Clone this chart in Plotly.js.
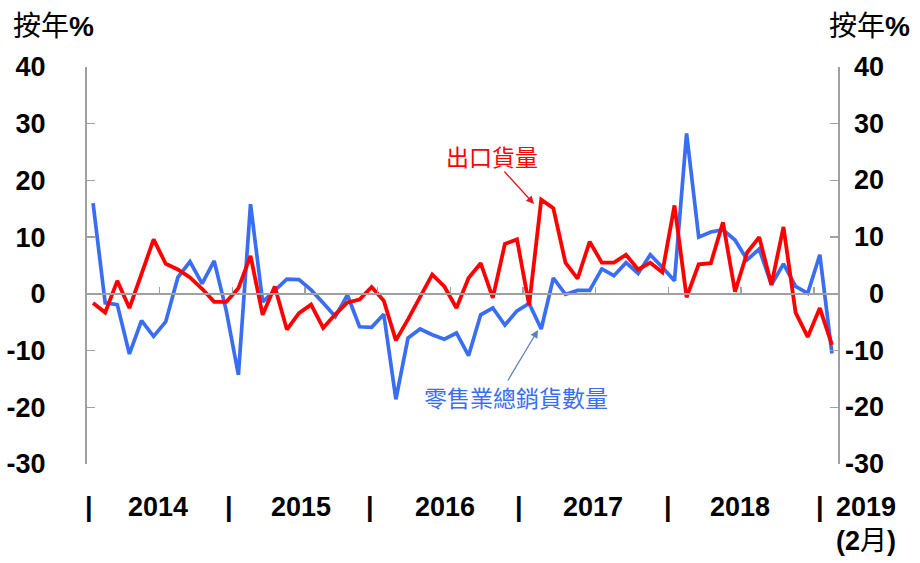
<!DOCTYPE html>
<html><head><meta charset="utf-8">
<script src="https://cdn.plot.ly/plotly-3.0.1.min.js"></script>
<style>html,body{margin:0;padding:0;background:#fff;}#chart{width:920px;height:563px;}</style>
</head><body><div id="chart"></div>
<script>
// Monthly, Jan 2014 .. Feb 2019 (year-on-year %)
const years = ['2014','2015','2016','2017','2018','2019'];
const retailVolume = [16.0,-1.6,-1.9,-10.6,-4.7,-7.5,-4.9,2.9,5.7,1.8,5.8,-3.0,
  -14.3,15.8,-1.4,0.6,2.6,2.5,0.7,-1.6,-4.0,-0.2,-5.8,-5.9,
  -3.6,-18.6,-7.8,-6.2,-7.2,-8.0,-6.9,-10.9,-3.7,-2.5,-5.5,-3.0,
  -1.7,-6.2,2.8,-0.1,0.6,0.6,4.4,3.2,5.5,3.6,6.9,4.7,
  2.3,28.3,10.0,10.9,11.3,9.5,6.0,7.9,1.6,5.3,1.3,0.1,
  6.9,-10.5];
const exportVolume = [-1.6,-3.3,2.3,-2.5,3.5,9.6,5.3,4.3,2.9,0.9,-1.4,-1.4,
  1.0,6.7,-3.7,1.3,-6.3,-3.4,-1.9,-6.0,-3.6,-1.5,-1.0,1.2,
  -1.2,-8.2,-4.5,-0.5,3.4,1.3,-2.5,2.8,5.4,-0.7,8.8,9.6,
  -2.0,16.6,15.1,5.5,2.7,9.2,5.5,5.5,6.9,4.3,5.5,3.8,
  15.6,-0.6,5.2,5.4,12.6,0.4,7.3,10.0,1.6,11.8,-3.3,-7.6,
  -2.5,-9.0];
const yTicks = [-30,-20,-10,0,10,20,30,40];
const yTickText = ['-30','-20','-10','0','10','20','30','40'];
const halfYearTicks = [5.5,11.5,17.5,23.5,29.5,35.5,41.5,47.5,53.5,59.5];
const monthIdx = retailVolume.map((_, i) => i);

const W = 920, L = 87, R = 838, T = 67, B = 464;
const px = v => (v - L) / (R - L);
const py = v => (B - v) / (B - T);
const FONT = 'Liberation Sans, Arial, Noto Sans CJK TC, sans-serif';
const GRAY = '#a0a0a0';
const FS = 27;

const traces = [
  {x: monthIdx, y: retailVolume, type: 'scatter', mode: 'lines', yaxis: 'y',
   line: {color: '#3a6ef2', width: 3.7}, hoverinfo: 'skip'},
  {x: monthIdx, y: exportVolume, type: 'scatter', mode: 'lines', yaxis: 'y2',
   line: {color: '#ff0000', width: 3.8}, hoverinfo: 'skip'}
];

const ann = [];
// right tick labels (right-aligned)
yTicks.forEach((v, k) => ann.push({xref: 'paper', yref: 'y', x: px(886), y: v, xanchor: 'right', yanchor: 'middle',
  text: '<b>' + yTickText[k] + '</b>', showarrow: false, font: {family: FONT, size: FS, color: '#000'}}));
// unit labels
[[11],[827]].forEach(p => ann.push({xref: 'paper', yref: 'paper', x: px(p[0]), y: py(26), xanchor: 'left', yanchor: 'middle',
  text: '按年<b>%</b>', showarrow: false, font: {family: FONT, size: 28, color: '#000'}}));
// year separators and labels
const sepPx = [88.5, 229, 370, 519, 668, 819.5];
const yearPx = [158, 301, 445, 593, 740, 866];
sepPx.forEach(p => ann.push({xref: 'paper', yref: 'paper', x: px(p), y: py(507), xanchor: 'center', yanchor: 'middle',
  text: '<b>|</b>', showarrow: false, font: {family: FONT, size: FS, color: '#000'}}));
years.forEach((yr, k) => ann.push({xref: 'paper', yref: 'paper', x: px(yearPx[k]), y: py(507), xanchor: 'center', yanchor: 'middle',
  text: '<b>' + yr + '</b>', showarrow: false, font: {family: FONT, size: FS, color: '#000'}}));
ann.push({xref: 'paper', yref: 'paper', x: px(866), y: py(541), xanchor: 'center', yanchor: 'middle',
  text: '<b>(2</b>月<b>)</b>', showarrow: false, font: {family: FONT, size: FS, color: '#000'}});
// series labels
ann.push({xref: 'paper', yref: 'paper', x: px(492), y: py(156), xanchor: 'center', yanchor: 'middle',
  text: '出口貨量', showarrow: false, font: {family: 'Noto Sans CJK TC', size: 23, color: '#ff0000'}});
ann.push({xref: 'paper', yref: 'paper', x: px(516), y: py(397), xanchor: 'center', yanchor: 'middle',
  text: '零售業總銷貨數量', showarrow: false, font: {family: 'Noto Sans CJK TC', size: 23, color: '#3a6ef2'}});
// arrows
ann.push({xref: 'paper', yref: 'paper', x: px(534), y: py(204), ax: -31, ay: -34, text: '', showarrow: true,
  arrowhead: 2, arrowsize: 1.2, arrowwidth: 1.3, arrowcolor: '#e8141c', standoff: 0});
ann.push({xref: 'paper', yref: 'paper', x: px(538), y: py(330), ax: -31, ay: 52, text: '', showarrow: true,
  arrowhead: 2, arrowsize: 1.2, arrowwidth: 1.3, arrowcolor: '#5b82b5', standoff: 0});

const layout = {
  width: W, height: 563,
  margin: {l: L, r: W - R, t: T, b: 563 - B, pad: 0},
  paper_bgcolor: '#fff', plot_bgcolor: '#fff',
  showlegend: false,
  xaxis: {range: [-0.5, 61.5], anchor: 'free', position: 30 / 70, showline: true, linecolor: GRAY, linewidth: 2,
    tickmode: 'array', tickvals: halfYearTicks, ticks: 'inside', ticklen: 6, tickwidth: 1.5, tickcolor: GRAY,
    showticklabels: false, showgrid: false, zeroline: false, fixedrange: true},
  yaxis: {range: [-30, 40], tickmode: 'array', tickvals: yTicks, ticktext: yTickText, ticks: 'inside', ticklen: 8, tickwidth: 1.5, tickcolor: GRAY,
    showline: true, linecolor: GRAY, linewidth: 2, showgrid: false, zeroline: false,
    ticklabelstandoff: 34, tickfont: {family: FONT, size: FS, color: '#000', weight: 'bold'}},
  yaxis2: {range: [-30, 40], overlaying: 'y', side: 'right', anchor: 'x', tickmode: 'array', tickvals: yTicks,
    ticks: 'inside', ticklen: 8, tickwidth: 1.5, tickcolor: GRAY, showline: true, linecolor: GRAY, linewidth: 2,
    showgrid: false, zeroline: false, showticklabels: false},
  annotations: ann
};
Plotly.newPlot('chart', traces, layout, {staticPlot: true});
</script></body></html>
